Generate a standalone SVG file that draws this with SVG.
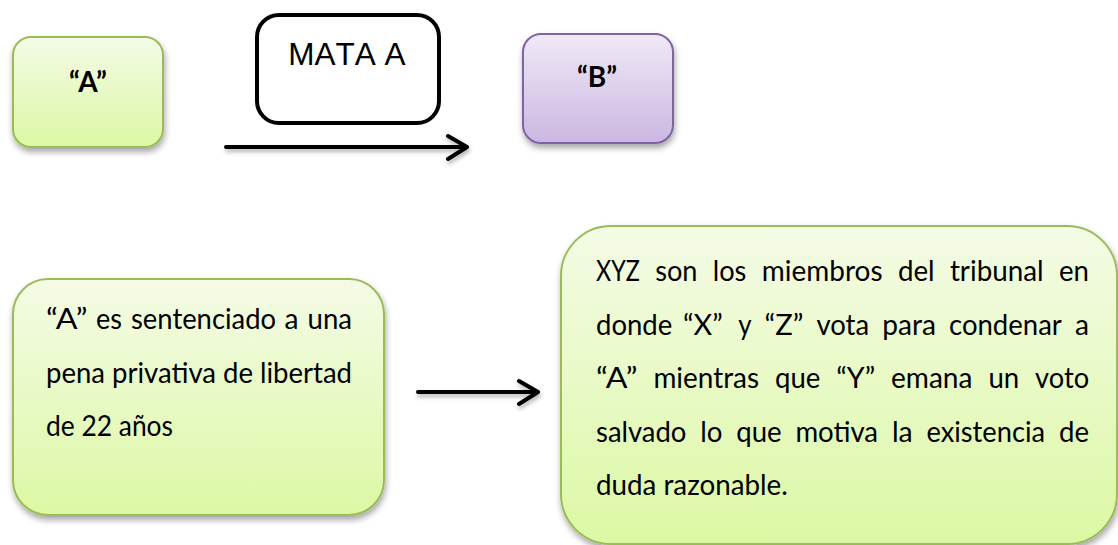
<svg xmlns="http://www.w3.org/2000/svg" width="1118" height="545" viewBox="0 0 1118 545">
<defs>
<linearGradient id="gGreen" x1="0" y1="0" x2="0" y2="1">
<stop offset="0" stop-color="#f4fbe6"/>
<stop offset="1" stop-color="#dcf8a4"/>
</linearGradient>
<linearGradient id="gPurple" x1="0" y1="0" x2="0" y2="1">
<stop offset="0" stop-color="#efe9f6"/>
<stop offset="1" stop-color="#cbb7e2"/>
</linearGradient>
<filter id="sh" x="-10%" y="-10%" width="125%" height="130%">
<feDropShadow dx="1" dy="4" stdDeviation="3" flood-color="#000" flood-opacity="0.35"/>
</filter>
<filter id="shl" x="-10%" y="-50%" width="125%" height="250%">
<feDropShadow dx="1" dy="3" stdDeviation="2" flood-color="#000" flood-opacity="0.3"/>
</filter>
</defs>
<style>
.green{fill:url(#gGreen);stroke:#9bbb59;stroke-width:2}
.purple{fill:url(#gPurple);stroke:#8064a2;stroke-width:2}
.lbl{font-family:Lato,"Noto Sans",sans-serif;font-weight:bold;font-size:28px;fill:#000}
.body{font-family:Lato,"Noto Sans",sans-serif;font-size:28.5px;fill:#000}
.mata{font-family:"Liberation Sans",Arial,sans-serif;font-size:31.5px;fill:#000;font-kerning:none}
.conn{fill:none;stroke:#000;stroke-width:4;stroke-linecap:round;stroke-linejoin:round}
</style>
<rect width="1118" height="545" fill="#fff"/>

<g id="nodeA">
<rect class="green" x="13" y="37" width="150" height="110" rx="18" filter="url(#sh)"/>
<text class="lbl" x="88" y="92" text-anchor="middle">“A”</text>
</g>

<g id="nodeMata">
<rect x="257" y="15" width="182" height="108" rx="22" fill="#fff" stroke="#000" stroke-width="4"/>
<text class="mata" x="347" y="65" text-anchor="middle">MATA A</text>
</g>

<g id="nodeB">
<rect class="purple" x="523" y="34" width="150" height="109" rx="18" filter="url(#sh)"/>
<text class="lbl" x="597" y="87" text-anchor="middle">“B”</text>
</g>

<g id="nodeSentencia">
<rect class="green" x="13" y="279" width="371" height="236" rx="35" filter="url(#sh)"/>
<text class="body" x="46" y="329" textLength="41.5" lengthAdjust="spacingAndGlyphs">“A”</text>
<text class="body" x="96" y="329" textLength="26" lengthAdjust="spacingAndGlyphs">es</text>
<text class="body" x="131" y="329" textLength="145" lengthAdjust="spacingAndGlyphs">sentenciado</text>
<text class="body" x="284.5" y="329" textLength="14" lengthAdjust="spacingAndGlyphs">a</text>
<text class="body" x="307.5" y="329" textLength="44.5" lengthAdjust="spacingAndGlyphs">una</text>
<text class="body" x="46" y="382.5" textLength="306" lengthAdjust="spacingAndGlyphs">pena privativa de libertad</text>
<text class="body" x="46" y="436" textLength="127" lengthAdjust="spacingAndGlyphs">de 22 años</text>
</g>

<g id="nodeTribunal">
<rect class="green" x="561" y="226" width="556" height="318" rx="50" filter="url(#sh)"/>
<text class="body" x="596" y="281" textLength="43.8" lengthAdjust="spacingAndGlyphs">XYZ</text>
<text class="body" x="655.2" y="281" textLength="42.3" lengthAdjust="spacingAndGlyphs">son</text>
<text class="body" x="712.8" y="281" textLength="33.6" lengthAdjust="spacingAndGlyphs">los</text>
<text class="body" x="761.8" y="281" textLength="120.8" lengthAdjust="spacingAndGlyphs">miembros</text>
<text class="body" x="897.9" y="281" textLength="36.7" lengthAdjust="spacingAndGlyphs">del</text>
<text class="body" x="949.9" y="281" textLength="93.7" lengthAdjust="spacingAndGlyphs">tribunal</text>
<text class="body" x="1059" y="281" textLength="30" lengthAdjust="spacingAndGlyphs">en</text>

<text class="body" x="596" y="334.5" textLength="76.3" lengthAdjust="spacingAndGlyphs">donde</text>
<text class="body" x="683" y="334.5" textLength="39.7" lengthAdjust="spacingAndGlyphs">“X”</text>
<text class="body" x="738.2" y="334.5" textLength="13.3" lengthAdjust="spacingAndGlyphs">y</text>
<text class="body" x="764.6" y="334.5" textLength="38.8" lengthAdjust="spacingAndGlyphs">“Z”</text>
<text class="body" x="816.5" y="334.5" textLength="52.6" lengthAdjust="spacingAndGlyphs">vota</text>
<text class="body" x="882.2" y="334.5" textLength="53.7" lengthAdjust="spacingAndGlyphs">para</text>
<text class="body" x="949" y="334.5" textLength="112.9" lengthAdjust="spacingAndGlyphs">condenar</text>
<text class="body" x="1075" y="334.5" textLength="14" lengthAdjust="spacingAndGlyphs">a</text>

<text class="body" x="596" y="388" textLength="41.5" lengthAdjust="spacingAndGlyphs">“A”</text>
<text class="body" x="653.4" y="388" textLength="105.7" lengthAdjust="spacingAndGlyphs">mientras</text>
<text class="body" x="775" y="388" textLength="45.4" lengthAdjust="spacingAndGlyphs">que</text>
<text class="body" x="836.3" y="388" textLength="38.8" lengthAdjust="spacingAndGlyphs">“Y”</text>
<text class="body" x="891" y="388" textLength="81.5" lengthAdjust="spacingAndGlyphs">emana</text>
<text class="body" x="988.4" y="388" textLength="30.8" lengthAdjust="spacingAndGlyphs">un</text>
<text class="body" x="1035.1" y="388" textLength="54" lengthAdjust="spacingAndGlyphs">voto</text>

<text class="body" x="596" y="441.5" textLength="90.4" lengthAdjust="spacingAndGlyphs">salvado</text>
<text class="body" x="700.2" y="441.5" textLength="22.2" lengthAdjust="spacingAndGlyphs">lo</text>
<text class="body" x="736.2" y="441.5" textLength="45.4" lengthAdjust="spacingAndGlyphs">que</text>
<text class="body" x="795.4" y="441.5" textLength="82.7" lengthAdjust="spacingAndGlyphs">motiva</text>
<text class="body" x="891.9" y="441.5" textLength="20.8" lengthAdjust="spacingAndGlyphs">la</text>
<text class="body" x="926.5" y="441.5" textLength="118.5" lengthAdjust="spacingAndGlyphs">existencia</text>
<text class="body" x="1059" y="441.5" textLength="30" lengthAdjust="spacingAndGlyphs">de</text>

<text class="body" x="596" y="495" textLength="191.8" lengthAdjust="spacingAndGlyphs">duda razonable.</text>
</g>

<g id="connectors">
<g filter="url(#shl)">
<path class="conn" d="M226 147 H467 M448 136 L467 147 L448 159"/>
<path class="conn" d="M418 392 H538 M519 381 L538 392 L519 404"/>
</g>
</g>
</svg>
